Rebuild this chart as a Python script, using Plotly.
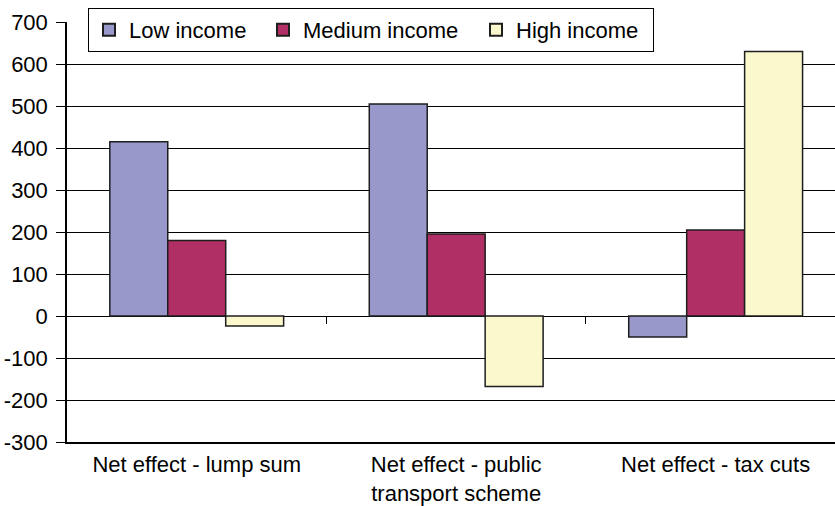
import plotly.graph_objects as go

# Net effect of each policy option by income group
categories = ["Net effect - lump sum", "Net effect - public<br>transport scheme", "Net effect - tax cuts"]
low_income = [415, 505, -50]
medium_income = [180, 195, 205]
high_income = [-24, -168, 630]

series = [
    ("Low income", low_income, "#9898CA", 129),
    ("Medium income", medium_income, "#B03065", 168),
    ("High income", high_income, "#FAF8CC", 132),
]

y_ticks = list(range(-300, 800, 100))
x_range = [-0.5, 2.46]
y_range = [-300, 700]

font_family = "Liberation Sans, Arial, Helvetica, sans-serif"
font_size = 22

fig = go.Figure()
for name, vals, color, entry_w in series:
    fig.add_trace(go.Bar(
        name=name,
        x=list(range(len(categories))),
        y=vals,
        marker=dict(color=color, line=dict(color="#1E1E1E", width=1.5)),
        legendwidth=entry_w,
        hoverinfo="skip",
    ))

# Secondary axis only used to draw category divider ticks on the zero line
fig.add_trace(go.Scatter(x=[None], y=[None], xaxis="x2", showlegend=False, hoverinfo="skip"))

zero_frac = (0 - y_range[0]) / (y_range[1] - y_range[0])

fig.update_layout(
    width=835,
    height=506,
    margin=dict(l=67, r=0, t=22, b=62),
    paper_bgcolor="white",
    plot_bgcolor="white",
    font=dict(family=font_family, size=font_size, color="black"),
    barmode="group",
    bargap=0.33,
    bargroupgap=0,
    showlegend=True,
    legend=dict(
        orientation="h",
        x=(88 - 67) / 768,
        xanchor="left",
        y=1 + 14 / 422,
        yanchor="top",
        bgcolor="white",
        bordercolor="black",
        borderwidth=1,
        font=dict(family=font_family, size=font_size, color="black"),
        traceorder="normal",
        itemsizing="constant",
    ),
    xaxis=dict(
        range=x_range,
        tickmode="array",
        tickvals=list(range(len(categories))),
        ticktext=categories,
        ticks="",
        showline=True,
        linecolor="black",
        linewidth=1.5,
        showgrid=False,
        zeroline=False,
        tickfont=dict(size=font_size),
        ticklabelstandoff=2,
    ),
    xaxis2=dict(
        overlaying="x",
        anchor="free",
        position=zero_frac,
        range=x_range,
        tickmode="array",
        tickvals=[0.5, 1.5],
        ticks="outside",
        ticklen=7,
        tickwidth=1,
        tickcolor="black",
        showticklabels=False,
        showline=False,
        showgrid=False,
        zeroline=False,
    ),
    yaxis=dict(
        range=y_range,
        tickmode="array",
        tickvals=y_ticks,
        ticktext=[str(v) for v in y_ticks],
        ticks="outside",
        ticklen=9,
        tickwidth=1,
        tickcolor="black",
        showline=True,
        linecolor="black",
        linewidth=1.5,
        showgrid=True,
        gridcolor="black",
        gridwidth=1,
        zeroline=False,
        tickfont=dict(size=font_size),
        ticklabelstandoff=4,
    ),
)

fig.write_html("out.html")
